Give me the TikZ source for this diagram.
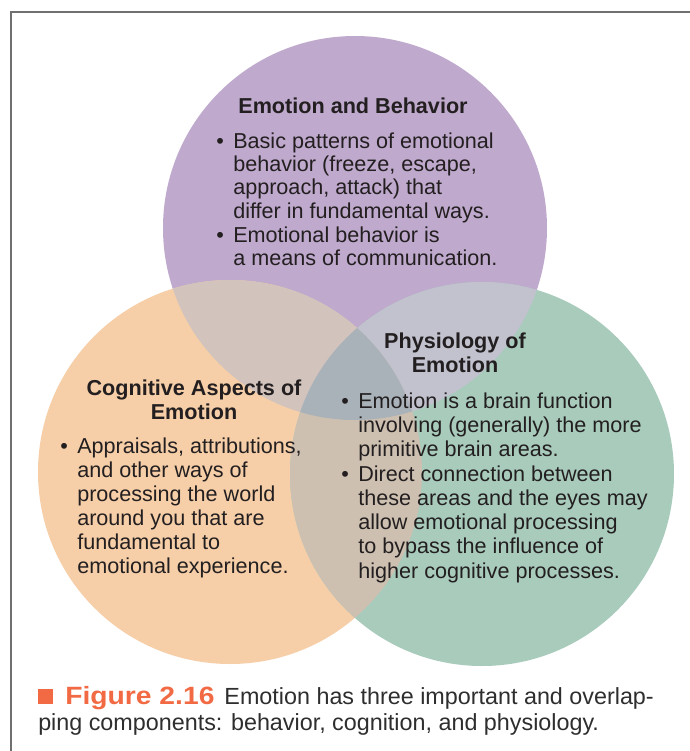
\documentclass[tikz,border=0pt]{standalone}
\usepackage{fontspec}
\setmainfont{Liberation Sans}
\usepackage{graphicx}
\definecolor{purp}{HTML}{BFA9CD}
\definecolor{oran}{HTML}{F6CFA8}
\definecolor{gree}{HTML}{A8CBBC}
\definecolor{po}{HTML}{D2C4BD}
\definecolor{pg}{HTML}{C1C2CE}
\definecolor{og}{HTML}{CDC0B1}
\definecolor{pog}{HTML}{A8B2B8}
\definecolor{ink}{HTML}{231F20}
\definecolor{capink}{HTML}{2E2E2E}
\definecolor{figred}{HTML}{F26A43}
\definecolor{framecol}{HTML}{707070}
\newcommand\mytitle[1]{\begin{tabular}[t]{@{}c@{}}#1\end{tabular}}
\newcommand\myitem[1]{\begin{tabular}[t]{@{}l@{}}\llap{\textbullet\hspace{7pt}}#1\end{tabular}}
\tikzset{
  ttl/.style={font=\bfseries\fontsize{16.2pt}{18pt}\selectfont, text=ink, anchor=base, inner sep=0pt},
  itm/.style={font=\fontsize{16.2pt}{18pt}\selectfont, text=ink, anchor=base west, inner sep=0pt},
  itmp/.style={itm, font=\fontsize{16.2pt}{17.5pt}\selectfont},
  itmg/.style={itm, font=\fontsize{16.2pt}{18.2pt}\selectfont},
  captxt/.style={font=\fontsize{17.5pt}{20pt}\selectfont, text=capink, anchor=base west, inner sep=0pt},
}
\begin{document}
\begin{tikzpicture}[x=0.75pt,y=-0.75pt]
\useasboundingbox (0,0) rectangle (690,751);
\fill[white] (0,0) rectangle (690,751);
% frame
\draw[framecol, line width=1.1pt] (11,751) -- (11,12) -- (690,12);
% circle centres
\coordinate (P) at (355,228);
\coordinate (O) at (230,472);
\coordinate (G) at (482,474);
\fill[purp] (P) circle[radius=144pt];
\fill[oran] (O) circle[radius=144pt];
\fill[gree] (G) circle[radius=144pt];
\begin{scope}
  \clip (P) circle[radius=144pt];
  \fill[po] (O) circle[radius=144pt];
  \fill[pg] (G) circle[radius=144pt];
\end{scope}
\begin{scope}
  \clip (O) circle[radius=144pt];
  \fill[og] (G) circle[radius=144pt];
\end{scope}
\begin{scope}
  \clip (P) circle[radius=144pt];
  \clip (O) circle[radius=144pt];
  \fill[pog] (G) circle[radius=144pt];
\end{scope}
% Emotion and Behavior
\node[ttl] (tb) at (353,113) {\mytitle{Emotion and Behavior}};
\node[itmp] (b1) at (233,148) {\myitem{Basic patterns of emotional\\behavior (freeze, escape,\\approach, attack) that\\differ in fundamental ways.}};
\node[itmp] (b2) at (233,242.5) {\myitem{Emotional behavior is\\a means of communication.}};
% Cognitive
\node[ttl] (tc) at (194,395) {\mytitle{Cognitive Aspects of\\Emotion}};
\node[itm] (c1) at (77,453) {\myitem{Appraisals, attributions,\\and other ways of\\processing the world\\around you that are\\fundamental to\\emotional experience.}};
% Physiology
\node[ttl] (tp) at (455,348) {\mytitle{Physiology of\\Emotion}};
\node[itmg] (p1) at (358,408) {\myitem{Emotion is a brain function\\involving (generally) the more\\primitive brain areas.}};
\node[itmg] (p2) at (358,481) {\myitem{Direct connection between\\these areas and the eyes may\\allow emotional processing\\to bypass the influence of\\higher cognitive processes.}};
% caption
\node[captxt] (cap1) at (38,704) {\textcolor{figred}{\rule{11.3pt}{11.3pt}\hspace{9pt}\scalebox{1.13}[1]{\bfseries\fontsize{18.75pt}{20pt}\selectfont Figure 2.16}}\hspace{7.5pt}Emotion has three important and overlap-};
\node[captxt] (cap2) at (38,730.5) {ping components: behavior, cognition, and physiology.};
\end{tikzpicture}
\end{document}
